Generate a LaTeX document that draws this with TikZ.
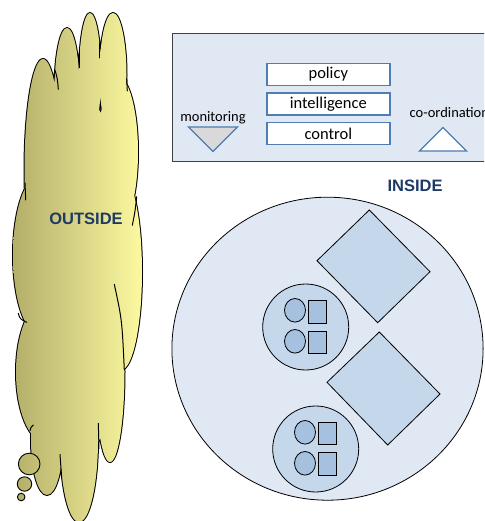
\documentclass[tikz,border=0pt]{standalone}
\usepackage{fontspec}
\setmainfont{Carlito}
\newfontfamily\headfont{Liberation Sans}
\definecolor{panelfill}{RGB}{224,232,243}
\definecolor{panelline}{RGB}{64,64,64}
\definecolor{boxline}{RGB}{79,124,178}
\definecolor{midfill}{RGB}{197,215,235}
\definecolor{smallfill}{RGB}{166,193,223}
\definecolor{headcol}{RGB}{30,58,102}
\definecolor{cloudL}{RGB}{180,175,105}
\definecolor{cloudR}{RGB}{252,249,160}
\definecolor{trigrey}{RGB}{217,217,217}
\tikzset{
  labelbox/.style={draw=boxline, line width=1.4pt, fill=white, minimum width=123pt, minimum height=22pt, inner sep=0pt, font=\fontsize{16.5}{17}\selectfont},
  tri/.style={draw=boxline, line width=1.3pt, line join=miter},
  heading/.style={font=\headfont\bfseries\fontsize{16.5}{18}\selectfont, text=headcol, inner sep=0pt},
  smalltext/.style={font=\fontsize{14.5}{15}\selectfont, inner sep=0pt},
  shapeline/.style={draw=black, line width=0.8pt},
  tail/.style={line width=1pt, line cap=round}
}
\begin{document}
\begin{tikzpicture}[x=1pt,y=-1pt]
\useasboundingbox (0,0) rectangle (484,521);
\clip (0,0) rectangle (484,521);
% ---------- cloud ----------
\draw[line width=2pt]
  (113,75) ellipse [x radius=13.5pt, y radius=62pt]
  (90,75) ellipse [x radius=11pt, y radius=62pt]
  (67,90) ellipse [x radius=12.5pt, y radius=62pt]
  (43,170) ellipse [x radius=18.5pt, y radius=111pt]
  (118,152) ellipse [x radius=20pt, y radius=75pt]
  (121,272) ellipse [x radius=21pt, y radius=98pt]
  (40,255) ellipse [x radius=27pt, y radius=80pt]
  (45,372) ellipse [x radius=29pt, y radius=70pt]
  (110,372) ellipse [x radius=14.5pt, y radius=90pt]
  (79,440) ellipse [x radius=19pt, y radius=82pt]
  (47,440) ellipse [x radius=16pt, y radius=55pt]
  (80,275) ellipse [x radius=48pt, y radius=180pt];
\shade[left color=cloudL, right color=cloudR]
  (113,75) ellipse [x radius=13.5pt, y radius=62pt]
  (90,75) ellipse [x radius=11pt, y radius=62pt]
  (67,90) ellipse [x radius=12.5pt, y radius=62pt]
  (43,170) ellipse [x radius=18.5pt, y radius=111pt]
  (118,152) ellipse [x radius=20pt, y radius=75pt]
  (121,272) ellipse [x radius=21pt, y radius=98pt]
  (40,255) ellipse [x radius=27pt, y radius=80pt]
  (45,372) ellipse [x radius=29pt, y radius=70pt]
  (110,372) ellipse [x radius=14.5pt, y radius=90pt]
  (79,440) ellipse [x radius=19pt, y radius=82pt]
  (47,440) ellipse [x radius=16pt, y radius=55pt]
  (80,275) ellipse [x radius=48pt, y radius=180pt];
% inner tails of the cloud bumps
\draw[tail] (79,50) .. controls (78.8,58) .. (79,67.7);
\draw[tail] (99.3,43) .. controls (99.1,50) .. (99.3,58);
\draw[tail] (55,70) .. controls (57.5,79) .. (58.3,89.3);
\draw[tail] (126.7,79) .. controls (127.2,85) .. (127.3,91);
\draw[tail] (25,183) .. controls (25.2,192) .. (25.7,200);
\draw[tail] (136.7,196.7) .. controls (135,212) .. (132.3,225.3);
\draw[tail] (18.3,313.3) .. controls (20,319) .. (26.7,322.3);
\draw[tail] (114.3,284.3) .. controls (122,320) .. (124.3,370);
\draw[tail] (33.3,425) .. controls (31,427) .. (30,430.7);
\draw[tail] (98.3,423.3) .. controls (98.6,436) .. (99,448.3);
\draw[tail] (60,454.3) .. controls (60.8,466) .. (61.7,478.3);
% thought bubbles
\draw[line width=0.9pt, left color=cloudL!95!cloudR, right color=cloudL!75!cloudR] (29.2,464) circle [radius=10.8pt];
\draw[line width=0.9pt, left color=cloudL, right color=cloudL!85!cloudR] (24.5,484) circle [radius=7.2pt];
\draw[line width=0.9pt, fill=cloudL] (21.2,497) circle [radius=3.8pt];
\node[heading] (outside) at (86,219) {OUTSIDE};
% ---------- management panel ----------
\node[draw=panelline, line width=1pt, fill=panelfill, minimum width=320pt, minimum height=128.6pt, anchor=north west, inner sep=0pt] (panel) at (171.7,32.7) {};
\node[labelbox] (policy) at (328.3,74.3) {policy};
\node[labelbox] (intel) at (328.3,104) {intelligence};
\node[labelbox] (control) at (328.3,133.7) {control};
\node[smalltext] (monitoring) at (213,118) {monitoring};
\draw[tri, fill=trigrey] (188.5,127) -- (237.5,127) -- (213,151.5) -- cycle;
\node[smalltext, anchor=west] (coord) at (409.5,112.5) {co-ordination};
\draw[tri, fill=white] (419.5,151) -- (466.5,151) -- (443,127.5) -- cycle;
% ---------- inside ----------
\node[heading] (inside) at (415,186) {INSIDE};
\draw[shapeline, fill=panelfill] (327.5,348.7) ellipse [x radius=155.6pt, y radius=151.5pt];
\draw[shapeline, fill=midfill] (369.3,210) -- (430,271.7) -- (377.7,322.7) -- (317,260.7) -- cycle;
\draw[shapeline, fill=midfill] (379.3,332) -- (440,394) -- (387.7,445) -- (327,382.3) -- cycle;
\draw[shapeline, fill=midfill] (305.7,327) circle [radius=43pt];
\draw[shapeline, fill=midfill] (315.7,449) circle [radius=43pt];
\draw[shapeline, fill=smallfill] (295,310.3) ellipse [x radius=10.5pt, y radius=11.8pt];
\draw[shapeline, fill=smallfill] (295,341.3) ellipse [x radius=10.5pt, y radius=11.8pt];
\draw[shapeline, fill=smallfill] (308.3,300.3) rectangle (326.5,323);
\draw[shapeline, fill=smallfill] (308.3,331) rectangle (326.5,353.7);
\draw[shapeline, fill=smallfill] (305,432.3) ellipse [x radius=10.5pt, y radius=11.8pt];
\draw[shapeline, fill=smallfill] (305,463.3) ellipse [x radius=10.5pt, y radius=11.8pt];
\draw[shapeline, fill=smallfill] (318.3,422) rectangle (336.5,444.7);
\draw[shapeline, fill=smallfill] (318.3,452.6) rectangle (336.5,475.7);
\end{tikzpicture}
\end{document}
